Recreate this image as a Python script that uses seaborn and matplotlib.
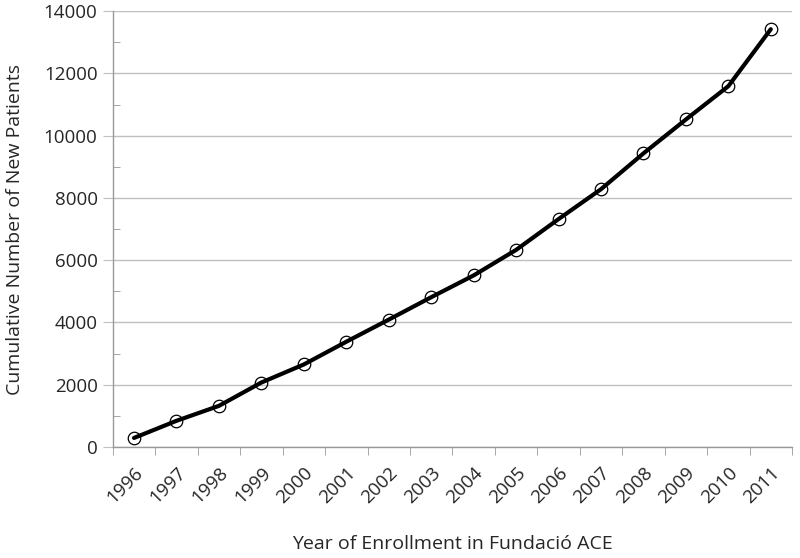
import matplotlib
matplotlib.use('Agg')
import matplotlib.pyplot as plt
import seaborn as sns
import pandas as pd
import numpy as np
from matplotlib.ticker import MultipleLocator, FixedLocator

years = ['1996', '1997', '1998', '1999', '2000', '2001', '2002', '2003',
         '2004', '2005', '2006', '2007', '2008', '2009', '2010', '2011']
cumulative = [290, 840, 1320, 2070, 2650, 3380, 4090, 4810,
              5510, 6330, 7320, 8280, 9430, 10520, 11590, 13420]

df = pd.DataFrame({'pos': np.arange(len(years)), 'year': years, 'n': cumulative})

sns.set_style('white')
plt.rcParams['font.family'] = ['Open Sans', 'DejaVu Sans']

fig = plt.figure(figsize=(8, 5.58), dpi=100)
ax = fig.add_axes([0.141, 0.199, 0.849, 0.781])

sns.lineplot(data=df, x='pos', y='n', color='black', linewidth=3,
             marker='o', markersize=9, markerfacecolor='none',
             markeredgecolor='black', markeredgewidth=0.9, ax=ax)

ax.set_xlim(-0.5, len(years) - 0.5)
ax.set_ylim(0, 14000)

ax.yaxis.set_major_locator(MultipleLocator(2000))
ax.yaxis.set_minor_locator(MultipleLocator(1000))
ax.grid(axis='y', which='major', color='#c0c0c0', linewidth=1)
ax.set_axisbelow(True)

ax.set_xticks(df['pos'])
ax.set_xticklabels(years, rotation=45, ha='right', rotation_mode='anchor')
ax.xaxis.set_minor_locator(FixedLocator(np.arange(-0.5, len(years), 1)))
ax.tick_params(axis='x', which='major', length=0, pad=12, labelsize=13.5)
ax.tick_params(axis='x', which='minor', length=6, color='#999999', direction='out', bottom=True)
ax.tick_params(axis='y', which='major', length=7, color='#c0c0c0', direction='out', labelsize=13.5, pad=4, left=True)
ax.tick_params(axis='y', which='minor', length=5, color='#999999', direction='in', left=True)

for s in ['top', 'right']:
    ax.spines[s].set_visible(False)
for s in ['left', 'bottom']:
    ax.spines[s].set_color('#999999')
    ax.spines[s].set_linewidth(1)

ax.set_xlabel('Year of Enrollment in Fundació ACE', fontsize=14, labelpad=20)
ax.set_ylabel('Cumulative Number of New Patients', fontsize=14, labelpad=14)

fig.savefig('out.png', dpi=100)
